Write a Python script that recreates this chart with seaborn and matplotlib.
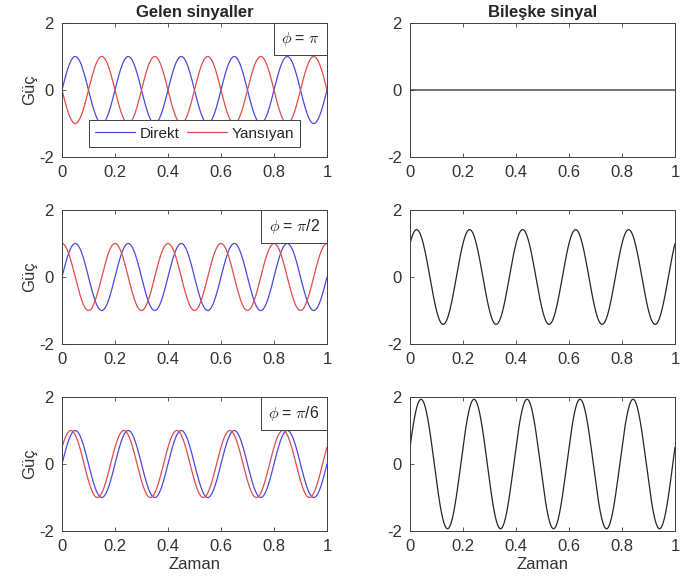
import numpy as np
import pandas as pd
import matplotlib
matplotlib.use("Agg")
import matplotlib.pyplot as plt
from matplotlib.offsetbox import AnchoredText
import seaborn as sns

# Signal parameters
frequency_hz = 5.0
amplitude = 1.0
phase_values = [np.pi, np.pi / 2, np.pi / 6]
phase_labels = [r"$\phi$ = $\pi$", r"$\phi$ = $\pi$/2", r"$\phi$ = $\pi$/6"]
series_names = ["Direkt", "Yansıyan"]
left_title = "Gelen sinyaller"
right_title = "Bileşke sinyal"
y_label = "Güç"
x_label = "Zaman"
x_ticks = [0, 0.2, 0.4, 0.6, 0.8, 1]
x_tick_labels = ["0", "0.2", "0.4", "0.6", "0.8", "1"]
y_ticks = [-2, 0, 2]
y_tick_labels = ["-2", "0", "2"]
t = np.linspace(0, 1, 2001)

sns.set_theme(style="ticks")
plt.rcParams["font.family"] = ["Liberation Sans", "DejaVu Sans"]
plt.rcParams["mathtext.fontset"] = "cm"

blue = "#4a4ae0"
red = "#e04c4c"
black = "#262626"
axcol = "#404040"

fig = plt.figure(figsize=(6.82, 5.80), dpi=100)
W, H = 682, 580
lefts = [62, 410]
aw = 265
tops = [23, 210, 397]
ah = 134

def style_ax(ax):
    ax.set_xlim(0, 1)
    ax.set_ylim(-2, 2)
    ax.set_xticks(x_ticks)
    ax.set_xticklabels(x_tick_labels)
    ax.set_yticks(y_ticks)
    ax.set_yticklabels(y_tick_labels)
    ax.tick_params(direction="in", length=3, width=0.6, labelsize=12,
                   top=True, right=False, colors=axcol, labelcolor="#333333")
    ax.tick_params(axis="x", pad=6)
    ax.tick_params(axis="y", pad=6)
    for s in ax.spines.values():
        s.set_visible(True)
        s.set_linewidth(0.7)
        s.set_color(axcol)
    ax.set_xlabel("")
    ax.set_ylabel("")

for r, phi in enumerate(phase_values):
    direct = amplitude * np.sin(2 * np.pi * frequency_hz * t)
    reflected = amplitude * np.sin(2 * np.pi * frequency_hz * t + phi)
    total = direct + reflected
    if r == 0:
        total = np.zeros_like(t)

    axL = fig.add_axes([lefts[0] / W, 1 - (tops[r] + ah) / H, aw / W, ah / H])
    axR = fig.add_axes([lefts[1] / W, 1 - (tops[r] + ah) / H, aw / W, ah / H])

    df = pd.DataFrame({"t": np.concatenate([t, t]),
                       "v": np.concatenate([direct, reflected]),
                       "s": [series_names[0]] * len(t) + [series_names[1]] * len(t)})
    sns.lineplot(data=df, x="t", y="v", hue="s", palette=[blue, red],
                 linewidth=0.9, ax=axL, legend=(r == 0), estimator=None, sort=False)
    sns.lineplot(x=t, y=total, color=black, linewidth=0.9, ax=axR,
                 estimator=None, sort=False)
    style_ax(axL)
    style_ax(axR)
    axL.set_ylabel(y_label, fontsize=12, labelpad=1, color="#333333")

    at = AnchoredText(phase_labels[r], loc="upper right", borderpad=0.0,
                      pad=0.45, frameon=True, prop=dict(size=11.5))
    at.patch.set_boxstyle("square,pad=0")
    at.patch.set_edgecolor(axcol)
    at.patch.set_linewidth(0.7)
    axL.add_artist(at)

    if r == 0:
        axL.set_title(left_title, fontsize=12, fontweight="bold", pad=4)
        axR.set_title(right_title, fontsize=12, fontweight="bold", pad=4)
        leg = axL.legend(loc="lower center", ncol=2, fontsize=11, frameon=True,
                         fancybox=False, edgecolor=axcol, handlelength=2.6,
                         columnspacing=0.5, handletextpad=0.3, borderpad=0.4,
                         bbox_to_anchor=(0.5, 0.02), framealpha=1)
        leg.get_frame().set_linewidth(0.7)
        leg.set_title(None)
    if r == 2:
        axL.set_xlabel(x_label, fontsize=12, labelpad=2, color="#333333")
        axR.set_xlabel(x_label, fontsize=12, labelpad=2, color="#333333")

fig.savefig("out.png", dpi=100, facecolor="white")
